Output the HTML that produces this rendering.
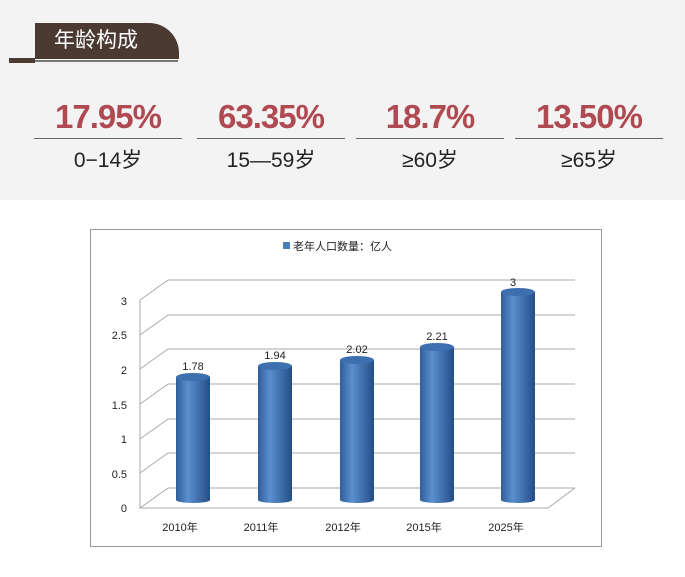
<!DOCTYPE html>
<html><head><meta charset="utf-8"><style>
body{margin:0;width:685px;height:577px;background:#fff;overflow:hidden;font-family:"Liberation Sans","Noto Sans CJK SC",sans-serif}
.top{position:absolute;left:0;top:0;width:685px;height:200px;background:#f4f3f3}
.tab{position:absolute;left:35px;top:23px;width:100px;height:36px;background:#4a3a32;border-top-right-radius:30px;color:#fff;font-size:21px;line-height:36px;padding-left:19px;box-sizing:border-box;width:144px}
.ul{position:absolute;left:35px;top:60px;width:143px;height:2px;background:#777}
.ul2{position:absolute;left:9px;top:58px;width:26px;height:5px;background:#4a3a32}
.st{position:absolute;top:98px;width:148px;text-align:center}
.st .v{color:#b04a52;font-size:33px;font-weight:bold;letter-spacing:-1px;height:40px;border-bottom:1px solid #666}
.st .l{font-size:21px;color:#222;margin-top:5px}
</style></head><body>
<div class="top"></div>
<div class="tab">年龄构成</div><div class="ul2"></div><div class="ul"></div>
<div class="st" style="left:34px"><div class="v">17.95%</div><div class="l">0−14岁</div></div>
<div class="st" style="left:197px"><div class="v">63.35%</div><div class="l">15—59岁</div></div>
<div class="st" style="left:356px"><div class="v">18.7%</div><div class="l">≥60岁</div></div>
<div class="st" style="left:515px"><div class="v">13.50%</div><div class="l">≥65岁</div></div>
<svg style="position:absolute;left:0;top:0" width="685" height="577">
<defs><linearGradient id="g" x1="0" x2="1"><stop offset="0" stop-color="#2f5e9a"/><stop offset=".35" stop-color="#5b8fd0"/><stop offset="1" stop-color="#244d85"/></linearGradient></defs>
<rect x="90.5" y="229.5" width="511" height="317" fill="#fff" stroke="#999"/>
<g stroke="#aaa" fill="none">
<path d="M168 280 H575 M168 315 H575 M168 349 H575 M168 384 H575 M168 419 H575 M168 453 H575 M168 488 H575"/>
<path d="M140 300 L168 280 M140 335 L168 315 M140 369 L168 349 M140 404 L168 384 M140 439 L168 419 M140 473 L168 453"/>
<path d="M140 300 V508 L168 488 M140 508 H548 L575 488"/>
</g>
<rect x="283" y="242" width="7" height="7" fill="#4a7ebb"/>
<text x="293" y="250" font-size="11" fill="#222">老年人口数量：亿人</text>
<g font-size="11" fill="#222" text-anchor="end">
<text x="127" y="305">3</text><text x="127" y="339">2.5</text><text x="127" y="374">2</text><text x="127" y="409">1.5</text><text x="127" y="443">1</text><text x="127" y="478">0.5</text><text x="127" y="512">0</text></g>
<g font-size="11" fill="#222" text-anchor="middle">
<text x="180" y="531">2010年</text><text x="261" y="531">2011年</text><text x="343" y="531">2012年</text><text x="424" y="531">2015年</text><text x="506" y="531">2025年</text>
<text x="193" y="370">1.78</text><text x="275" y="359">1.94</text><text x="357" y="353">2.02</text><text x="437" y="340">2.21</text><text x="513" y="286">3</text></g>
<g fill="url(#g)">
<path d="M176 377 V500 A17 3 0 0 0 210 500 V377 Z"/><ellipse cx="193" cy="377" rx="17" ry="4" fill="#3e6fae"/>
<path d="M258 366 V500 A17 3 0 0 0 292 500 V366 Z"/><ellipse cx="275" cy="366" rx="17" ry="4" fill="#3e6fae"/>
<path d="M340 360 V500 A17 3 0 0 0 374 500 V360 Z"/><ellipse cx="357" cy="360" rx="17" ry="4" fill="#3e6fae"/>
<path d="M420 347 V500 A17 3 0 0 0 454 500 V347 Z"/><ellipse cx="437" cy="347" rx="17" ry="4" fill="#3e6fae"/>
<path d="M501 292 V500 A17 3 0 0 0 535 500 V292 Z"/><ellipse cx="518" cy="292" rx="17" ry="4" fill="#3e6fae"/>
</g>
</svg>
</body></html>
